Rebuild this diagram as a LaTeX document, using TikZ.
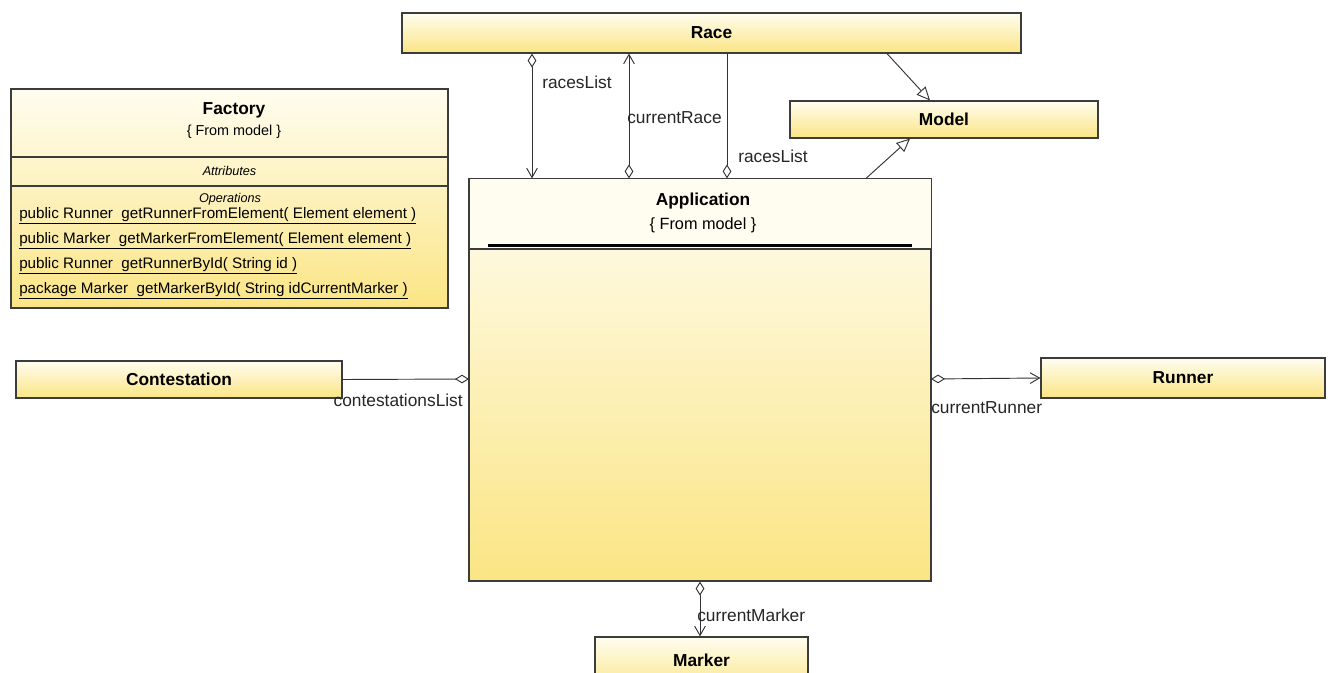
\documentclass[tikz,border=0pt]{standalone}
\usepackage{fontspec}
\setmainfont{Liberation Sans}
\usetikzlibrary{arrows.meta}
\definecolor{boxtop}{RGB}{255,253,240}
\definecolor{boxbot}{RGB}{251,229,132}
\definecolor{edge}{RGB}{60,60,60}
\begin{document}
\begin{tikzpicture}[x=0.75pt,y=-0.75pt,
  wh/.style 2 args={minimum width={#1*0.75pt}, minimum height={#2*0.75pt}},
  classbox/.style={draw=edge, line width=0.9pt, inner sep=0pt, top color=boxtop, bottom color=boxbot,
    font=\bfseries\fontsize{13}{15}\selectfont},
  lbl/.style={inner sep=0pt, font=\fontsize{13}{15}\selectfont, text=black!85},
  conn/.style={draw=black!80, line width=0.7pt},
  ops/.style={anchor=west, inner sep=0pt, font=\fontsize{11.4}{13}\selectfont}
]
\useasboundingbox (0,0) rectangle (1333,673);
\clip (0,0) rectangle (1333,673);
\fill[white] (0,0) rectangle (1333,673);

% ---- simple classes ----
\node[classbox, wh={619}{40}] (race) at (711.5,33) {Race};
\node[classbox, wh={308}{37}] (model) at (944,119.5) {Model};
\node[classbox, wh={326}{37}] (cont) at (179,379.5) {Contestation};
\node[classbox, wh={284}{40}] (runner) at (1183,378) {Runner};
\node[classbox, wh={213}{56}] (marker) at (701.5,665) {};
\node[font=\bfseries\fontsize{13}{15}\selectfont, inner sep=0pt] (markertxt) at (701.5,660) {Marker};

% ---- Factory class ----
\node[draw=edge, line width=0.9pt, inner sep=0pt, top color=boxtop, bottom color=boxbot, wh={437}{219}]
  (factory) at (229.5,198.5) {};
\draw[edge, line width=0.8pt] (11,157) -- (448,157);
\draw[edge, line width=0.8pt] (11,186) -- (448,186);
\node[font=\bfseries\fontsize{13}{15}\selectfont, inner sep=0pt] (ftitle) at (234,110) {Factory};
\node[font=\fontsize{10.8}{12}\selectfont, inner sep=0pt] (fsub) at (234,132) {\{ From model \}};
\node[font=\itshape\fontsize{9.5}{11}\selectfont, inner sep=0pt] (fattr) at (229.5,171) {Attributes};
\node[font=\itshape\fontsize{9.5}{11}\selectfont, inner sep=0pt] (fops) at (230,199) {Operations};
\node[ops] (op1) at (19,216) {\underline{public Runner\ \ getRunnerFromElement( Element element )}};
\node[ops] (op2) at (19,241) {\underline{public Marker\ \ getMarkerFromElement( Element element )}};
\node[ops] (op3) at (19,266) {\underline{public Runner\ \ getRunnerById( String id )}};
\node[ops] (op4) at (19,291) {\underline{package Marker\ \ getMarkerById( String idCurrentMarker )}};

% ---- Application class ----
\node[draw=edge, line width=0.9pt, inner sep=0pt, top color=boxtop, bottom color=boxbot, wh={462}{402}]
  (app) at (700,380) {};
\fill[boxtop] (469.5,179.5) rectangle (930.5,248.5);
\draw[edge, line width=0.9pt] (app.north west) rectangle (app.south east);
\draw[edge, line width=0.9pt] (469,249) -- (931,249);
\draw[black, line width=2.4pt] (488,245.5) -- (912,245.5);
\node[font=\bfseries\fontsize{13}{15}\selectfont, inner sep=0pt] (atitle) at (703,201) {Application};
\node[font=\fontsize{12.2}{14}\selectfont, inner sep=0pt] (asub) at (703,225) {\{ From model \}};

% ---- associations ----
\draw[conn, {Diamond[open, length=10.5pt, width=6.5pt, line width=0.7pt]}-{Straight Barb[length=7pt, width=8pt, line width=0.7pt]}]
  (532,0 |- race.south) -- (532,0 |- app.north);
\draw[conn, {Straight Barb[length=7pt, width=8pt, line width=0.7pt]}-{Diamond[open, length=10.5pt, width=6.5pt, line width=0.7pt]}]
  (629,0 |- race.south) -- (629,0 |- app.north);
\draw[conn, -{Diamond[open, length=10.5pt, width=6.5pt, line width=0.7pt]}]
  (727,0 |- race.south) -- (727,0 |- app.north);
\draw[conn, -{Diamond[open, length=10.5pt, width=6.5pt, line width=0.7pt]}]
  (cont.east) -- (469,379);
\draw[conn, {Diamond[open, length=10.5pt, width=6.5pt, line width=0.7pt]}-{Straight Barb[length=7pt, width=8pt, line width=0.7pt]}]
  (931,379) -- (runner.west);
\draw[conn, {Diamond[open, length=10.5pt, width=6.5pt, line width=0.7pt]}-{Straight Barb[length=7pt, width=8pt, line width=0.7pt]}]
  (700,0 |- app.south) -- (700,0 |- marker.north);

% ---- generalizations ----
\draw[conn, -{Triangle[open, length=10pt, width=9pt, line width=0.7pt]}] (887,0 |- race.south) -- (930,0 |- model.north);
\draw[conn, -{Triangle[open, length=10pt, width=9pt, line width=0.7pt]}] (866,0 |- app.north) -- (910,0 |- model.south);

% ---- role names ----
\node[lbl, anchor=west] (l1) at (542,82) {racesList};
\node[lbl, anchor=west] (l2) at (627,118) {currentRace};
\node[lbl, anchor=west] (l3) at (738,156) {racesList};
\node[lbl, anchor=east] (l4) at (463,400) {contestationsList};
\node[lbl, anchor=west] (l5) at (931,408) {currentRunner};
\node[lbl, anchor=west] (l6) at (697,615) {currentMarker};
\end{tikzpicture}
\end{document}
